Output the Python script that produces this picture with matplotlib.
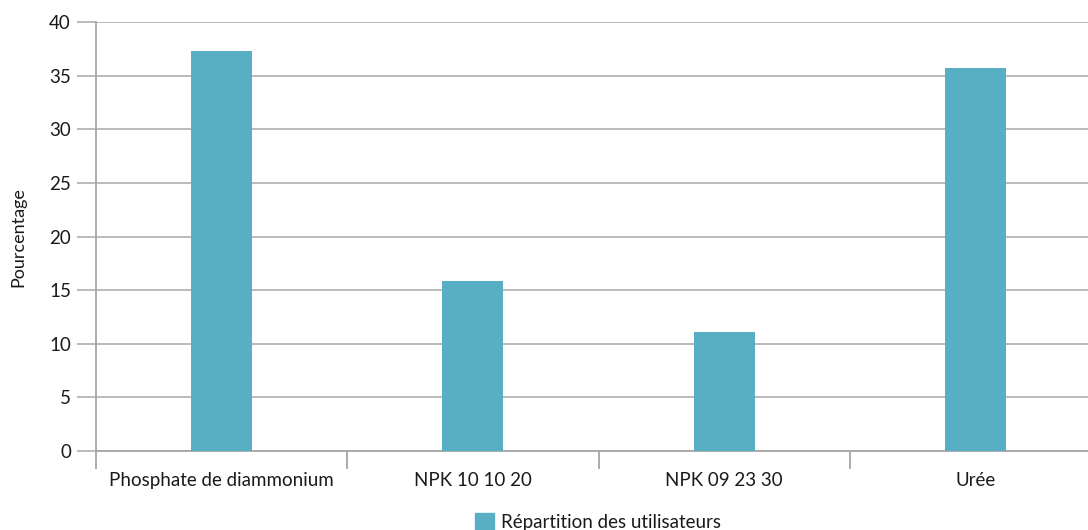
import matplotlib
matplotlib.use("Agg")
import matplotlib.pyplot as plt
import numpy as np
from matplotlib.patches import Patch

# Répartition des utilisateurs par type d'engrais (%)
categories = ["Phosphate de diammonium", "NPK 10 10 20", "NPK 09 23 30", "Urée"]
pourcentages = [37.3, 15.8, 11.1, 35.7]
yticks = [0, 5, 10, 15, 20, 25, 30, 35, 40]
serie_label = "Répartition des utilisateurs"

BAR_COLOR = "#58aec3"
GRID_COLOR = "#b4b4b4"
AXIS_COLOR = "#a6a6a6"
TEXT_COLOR = "#1a1a1a"

plt.rcParams["font.family"] = ["Lato", "DejaVu Sans"]

W, H = 1088, 530
fig = plt.figure(figsize=(W / 100, H / 100), dpi=100)
# l'axe déborde un peu à droite : la dernière catégorie finit hors cadre
ax = fig.add_axes([96 / W, 79.3 / H, (1101 - 96) / W, (450.7 - 22.3) / H])

x = np.arange(len(categories))
ax.bar(x, pourcentages, width=0.243, color=BAR_COLOR, zorder=3)

ax.set_xlim(-0.5, len(categories) - 0.5)
ax.set_ylim(0, 40)
ax.set_yticks(yticks)
ax.yaxis.grid(True, color=GRID_COLOR, linewidth=1.3, zorder=0)
ax.set_axisbelow(True)

# graduations x aux limites entre catégories, libellés centrés
ax.set_xticks(np.arange(len(categories) + 1) - 0.5)
ax.set_xticklabels([])
ax.set_xticks(x, minor=True)
ax.set_xticklabels(categories, minor=True, fontsize=13.5, color=TEXT_COLOR)
ax.tick_params(axis="x", which="major", length=13, width=1.3, color=AXIS_COLOR)
ax.tick_params(axis="x", which="minor", length=0, pad=15)
ax.tick_params(axis="y", length=14, width=1.3, color=GRID_COLOR,
               labelsize=13.5, labelcolor=TEXT_COLOR, pad=4)

for side in ("top", "right"):
    ax.spines[side].set_visible(False)
ax.spines["left"].set_color(AXIS_COLOR)
ax.spines["left"].set_linewidth(1.3)
ax.spines["bottom"].set_color(AXIS_COLOR)
ax.spines["bottom"].set_linewidth(1.3)

fig.text(18 / W, 1 - 237 / H, "Pourcentage", rotation=90, ha="center", va="center",
         fontsize=13, color=TEXT_COLOR)

fig.legend(handles=[Patch(color=BAR_COLOR, label=serie_label)],
           loc="center", bbox_to_anchor=(598 / W, 1 - 522 / H), frameon=False,
           fontsize=13.5, handlelength=1.0, handleheight=1.0, handletextpad=0.4,
           labelcolor=TEXT_COLOR)

fig.savefig("out.png", dpi=100)
